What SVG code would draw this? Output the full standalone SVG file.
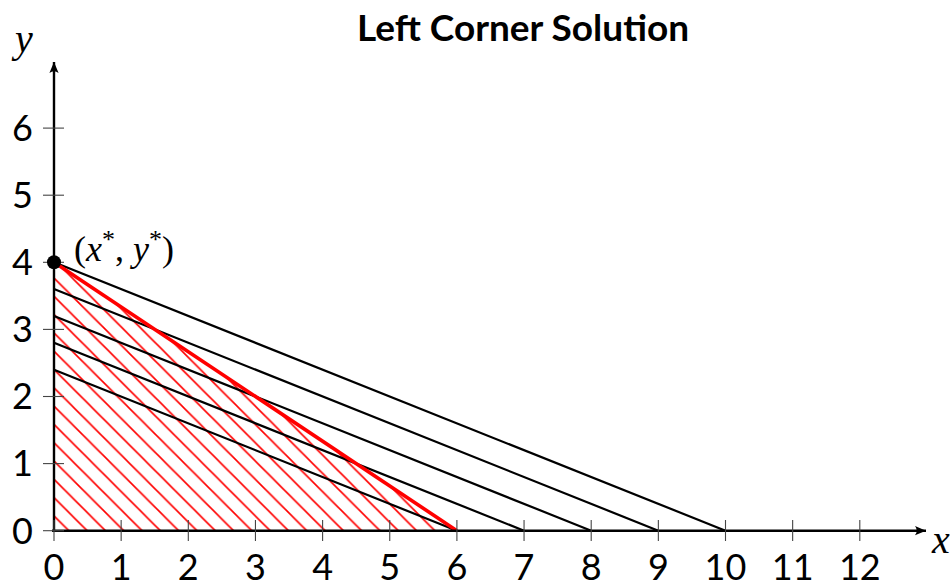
<svg xmlns="http://www.w3.org/2000/svg" width="950" height="584" viewBox="0 0 950 584">
<style>
.num{font-family:"Lato","Open Sans",sans-serif;font-size:36px;fill:#000}
.math{font-family:"Liberation Serif","DejaVu Serif",serif;font-style:italic;fill:#000}
.title{font-family:"Lato","Open Sans",sans-serif;font-size:37px;font-weight:bold;fill:#000}
.tick{stroke:#444;stroke-width:1.1}
.axis{stroke:#000;stroke-width:2.4;fill:none}
.budget{stroke:#000;stroke-width:2.2;fill:none}
</style>
<defs>
<pattern id="hatch" patternUnits="userSpaceOnUse" x="0" y="4.4" width="18.3" height="18.3">
<line x1="-2" y1="-2" x2="20.3" y2="20.3" stroke="#ff0000" stroke-width="1.6"/>
<line x1="-20.3" y1="-2" x2="2" y2="20.3" stroke="#ff0000" stroke-width="1.6"/>
<line x1="16.3" y1="-2" x2="38.6" y2="20.3" stroke="#ff0000" stroke-width="1.6"/>
</pattern>
<marker id="arr" viewBox="-12 -6 14 12" refX="0" refY="0" markerWidth="14" markerHeight="12" markerUnits="userSpaceOnUse" orient="auto">
<path d="M0,0 L-11,-4.6 Q-7.5,0 -11,4.6 Z" fill="#000"/>
</marker>
</defs>
<text class="title" x="523" y="41" text-anchor="middle">Left Corner Solution</text>
<g id="region">
<polygon points="54,530.7 456.9,530.7 54,262.3" fill="url(#hatch)"/>
</g>
<g id="connectors">
<line class="budget" x1="54" y1="262.3" x2="725.5" y2="530.7"/>
<line class="budget" x1="54" y1="289.1" x2="658.35" y2="530.7"/>
<line class="budget" x1="54" y1="316.0" x2="591.2" y2="530.7"/>
<line class="budget" x1="54" y1="342.8" x2="524.05" y2="530.7"/>
<line class="budget" x1="54" y1="369.7" x2="456.9" y2="530.7"/>
<line x1="54" y1="262.3" x2="456.9" y2="530.7" stroke="#ff0000" stroke-width="3.6"/>
</g>
<g id="axes">
<line class="axis" x1="52" y1="530.7" x2="926" y2="530.7" marker-end="url(#arr)"/>
<line class="axis" x1="54" y1="532" x2="54" y2="62" marker-end="url(#arr)"/>
<g class="tick">
<line x1="54" y1="520" x2="54" y2="541"/>
<line x1="121.15" y1="520" x2="121.15" y2="541"/>
<line x1="188.3" y1="520" x2="188.3" y2="541"/>
<line x1="255.45" y1="520" x2="255.45" y2="541"/>
<line x1="322.6" y1="520" x2="322.6" y2="541"/>
<line x1="389.75" y1="520" x2="389.75" y2="541"/>
<line x1="456.9" y1="520" x2="456.9" y2="541"/>
<line x1="524.05" y1="520" x2="524.05" y2="541"/>
<line x1="591.2" y1="520" x2="591.2" y2="541"/>
<line x1="658.35" y1="520" x2="658.35" y2="541"/>
<line x1="725.5" y1="520" x2="725.5" y2="541"/>
<line x1="792.65" y1="520" x2="792.65" y2="541"/>
<line x1="859.8" y1="520" x2="859.8" y2="541"/>
<line x1="43" y1="530.7" x2="64" y2="530.7"/>
<line x1="43" y1="463.6" x2="64" y2="463.6"/>
<line x1="43" y1="396.5" x2="64" y2="396.5"/>
<line x1="43" y1="329.4" x2="64" y2="329.4"/>
<line x1="43" y1="262.3" x2="64" y2="262.3"/>
<line x1="43" y1="195.2" x2="64" y2="195.2"/>
<line x1="43" y1="128.1" x2="64" y2="128.1"/>
</g>
<g class="num" text-anchor="middle">
<text x="54" y="580">0</text>
<text x="121.15" y="580">1</text>
<text x="188.3" y="580">2</text>
<text x="255.45" y="580">3</text>
<text x="322.6" y="580">4</text>
<text x="389.75" y="580">5</text>
<text x="456.9" y="580">6</text>
<text x="524.05" y="580">7</text>
<text x="591.2" y="580">8</text>
<text x="658.35" y="580">9</text>
<text x="725.5" y="580">10</text>
<text x="792.65" y="580">11</text>
<text x="859.8" y="580">12</text>
</g>
<g class="num" text-anchor="end">
<text x="33" y="543.5">0</text>
<text x="33" y="476.4">1</text>
<text x="33" y="409.3">2</text>
<text x="33" y="342.2">3</text>
<text x="33" y="275.1">4</text>
<text x="33" y="208">5</text>
<text x="33" y="140.9">6</text>
</g>
<text class="math" x="932" y="553" font-size="40">x</text>
<text class="math" x="15" y="52" font-size="40">y</text>
</g>
<g id="point">
<circle cx="54" cy="262.3" r="7" fill="#000"/>
<text class="math" x="74" y="261" font-size="36"><tspan font-style="normal">(</tspan>x<tspan font-style="normal" dy="-13" font-size="26">*</tspan><tspan font-style="normal" dy="13">, </tspan>y<tspan font-style="normal" dy="-13" font-size="26">*</tspan><tspan font-style="normal" dy="13">)</tspan></text>
</g>
</svg>
